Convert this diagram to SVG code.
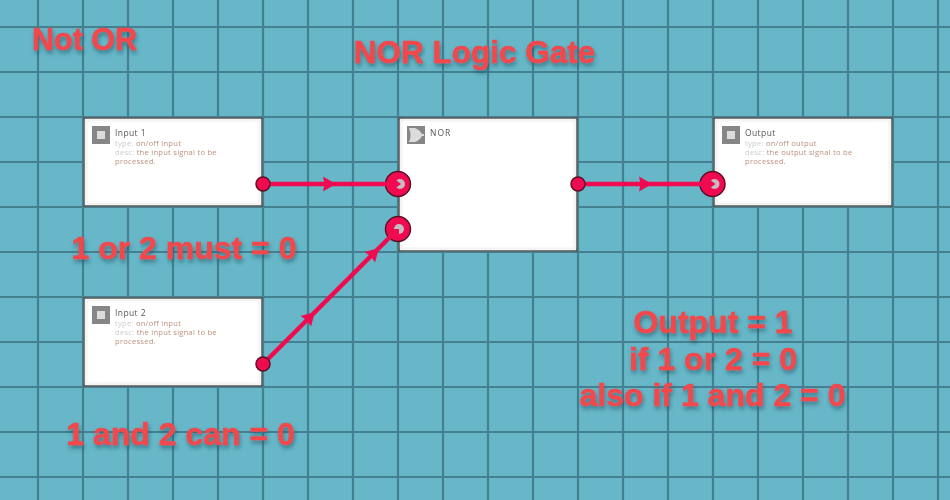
<svg xmlns="http://www.w3.org/2000/svg" width="950" height="500" viewBox="0 0 950 500">
<style>
.grid{stroke:#44808f;stroke-width:2.2;fill:none}
.box{fill:#fff;stroke:#555d60;stroke-width:2}
.inner{fill:none;stroke:#e6e6e6;stroke-width:1.500;filter:url(#soft)}
.big{font-family:"Liberation Sans",Arial,sans-serif;font-weight:700;font-size:32px;fill:#f2474c;stroke:#f2474c;stroke-width:.5;text-anchor:middle;filter:url(#ts)}
.ttl{font-family:"Open Sans",sans-serif;font-size:8.500px;fill:#555;letter-spacing:.4px;filter:url(#soft2)}
.sm{font-family:"Open Sans",sans-serif;font-size:7.600px;fill:#bd8f7c;letter-spacing:.25px;filter:url(#soft2)}
.k{fill:#ccc}
.ic{fill:#868686}
.in{fill:#dcdcdc}
.wire{stroke:#f00a50;stroke-width:4.500;fill:none;marker-mid:url(#ah)}
.dot{fill:#f00a50;stroke:#5c1028;stroke-width:1.500}
.ring{fill:#f00a50;stroke:#5c1028;stroke-width:1.500}
.hole{fill:#c4bcc0}
.tip{fill:#f00a50}
</style>
<defs>
<filter id="ts" x="-10%" y="-20%" width="120%" height="150%"><feDropShadow dx="1" dy="3" stdDeviation="2" flood-color="#24505f" flood-opacity=".6"/></filter>
<filter id="soft" x="-5%" y="-5%" width="110%" height="110%"><feGaussianBlur stdDeviation="1"/></filter>
<filter id="soft2" x="-5%" y="-20%" width="110%" height="140%"><feGaussianBlur stdDeviation=".25"/></filter>
<marker id="ah" markerWidth="16" markerHeight="18" refX="6" refY="9" orient="auto" markerUnits="userSpaceOnUse"><path d="M0 1.500L13 9L0 16.500L1.500 9Z" fill="#f00a50"/></marker>
</defs>
<rect width="950" height="500" fill="#67b7c8"/>
<path class="grid" d="M38 0V500M83 0V500M128 0V500M173 0V500M218 0V500M263 0V500M308 0V500M353 0V500M398 0V500M443 0V500M488 0V500M533 0V500M578 0V500M623 0V500M668 0V500M713 0V500M758 0V500M803 0V500M848 0V500M893 0V500M938 0V500M0 27H950M0 72H950M0 117H950M0 162H950M0 207H950M0 252H950M0 297H950M0 342H950M0 387H950M0 432H950M0 477H950"/>
<g id="input1">
<rect class="box" x="84" y="118" width="178" height="88"/><rect class="inner" x="86" y="120" width="174" height="84"/>
<rect class="ic" x="92" y="126" width="18" height="18"/><rect class="in" x="97" y="131" width="8" height="8"/>
<text class="ttl" x="115" y="136">Input 1</text>
<text class="sm" x="115" y="146"><tspan class="k">type: </tspan>on/off input</text>
<text class="sm" x="115" y="155"><tspan class="k">desc: </tspan>the input signal to be</text>
<text class="sm" x="115" y="164">processed.</text>
</g>
<g id="input2">
<rect class="box" x="84" y="298" width="178" height="88"/><rect class="inner" x="86" y="300" width="174" height="84"/>
<rect class="ic" x="92" y="306" width="18" height="18"/><rect class="in" x="97" y="311" width="8" height="8"/>
<text class="ttl" x="115" y="316">Input 2</text>
<text class="sm" x="115" y="326"><tspan class="k">type: </tspan>on/off input</text>
<text class="sm" x="115" y="335"><tspan class="k">desc: </tspan>the input signal to be</text>
<text class="sm" x="115" y="344">processed.</text>
</g>
<g id="nor">
<rect class="box" x="399" y="118" width="178" height="133"/><rect class="inner" x="401" y="120" width="174" height="129"/>
<rect class="ic" x="407" y="126" width="18" height="18"/>
<path class="in" d="M409 128H415Q420 130 422 134H424V136H422Q420 140 415 142H409Q412 135 409 128Z"/>
<text class="ttl" x="430" y="136" style="letter-spacing:1px">NOR</text>
</g>
<g id="output">
<rect class="box" x="714" y="118" width="178" height="88"/><rect class="inner" x="716" y="120" width="174" height="84"/>
<rect class="ic" x="722" y="126" width="18" height="18"/><rect class="in" x="727" y="131" width="8" height="8"/>
<text class="ttl" x="745" y="136">Output</text>
<text class="sm" x="745" y="146"><tspan class="k">type: </tspan>on/off output</text>
<text class="sm" x="745" y="155"><tspan class="k">desc: </tspan>the output signal to be</text>
<text class="sm" x="745" y="164">processed.</text>
</g>
<g id="connectors">
<circle class="ring" cx="398" cy="184" r="12.500"/><circle class="hole" cx="400" cy="184" r="5"/>
<circle class="ring" cx="398" cy="229" r="12.500"/><circle class="hole" cx="399" cy="229" r="5"/>
<circle class="ring" cx="712.500" cy="184" r="12.500"/><circle class="hole" cx="714.500" cy="184" r="5"/>
<path class="wire" d="M263 184L329 184L392 184"/>
<path class="wire" d="M263 364L310 317L374 253L392 235"/>
<path class="wire" d="M578 184L645 184L706 184"/>
<path class="tip" d="M393 178L401 184L393 190Z"/>
<path class="tip" d="M389 229L399 229L399 239Z"/>
<path class="tip" d="M707.500 178L715.500 184L707.500 190Z"/>
<circle class="dot" cx="263" cy="184" r="7"/>
<circle class="dot" cx="263" cy="364" r="7"/>
<circle class="dot" cx="578" cy="184" r="7"/>
</g>
<g id="labels">
<text class="big" x="84.500" y="50" style="font-size:30.500px">Not OR</text>
<text class="big" x="474.500" y="63" style="font-size:31.500px">NOR Logic Gate</text>
<text class="big" x="184" y="259">1 or 2 must = 0</text>
<text class="big" x="180.500" y="445">1 and 2 can = 0</text>
<text class="big" x="713" y="333">Output = 1</text>
<text class="big" x="713" y="370">if 1 or 2 = 0</text>
<text class="big" x="712.500" y="406">also if 1 and 2 = 0</text>
</g>
</svg>
